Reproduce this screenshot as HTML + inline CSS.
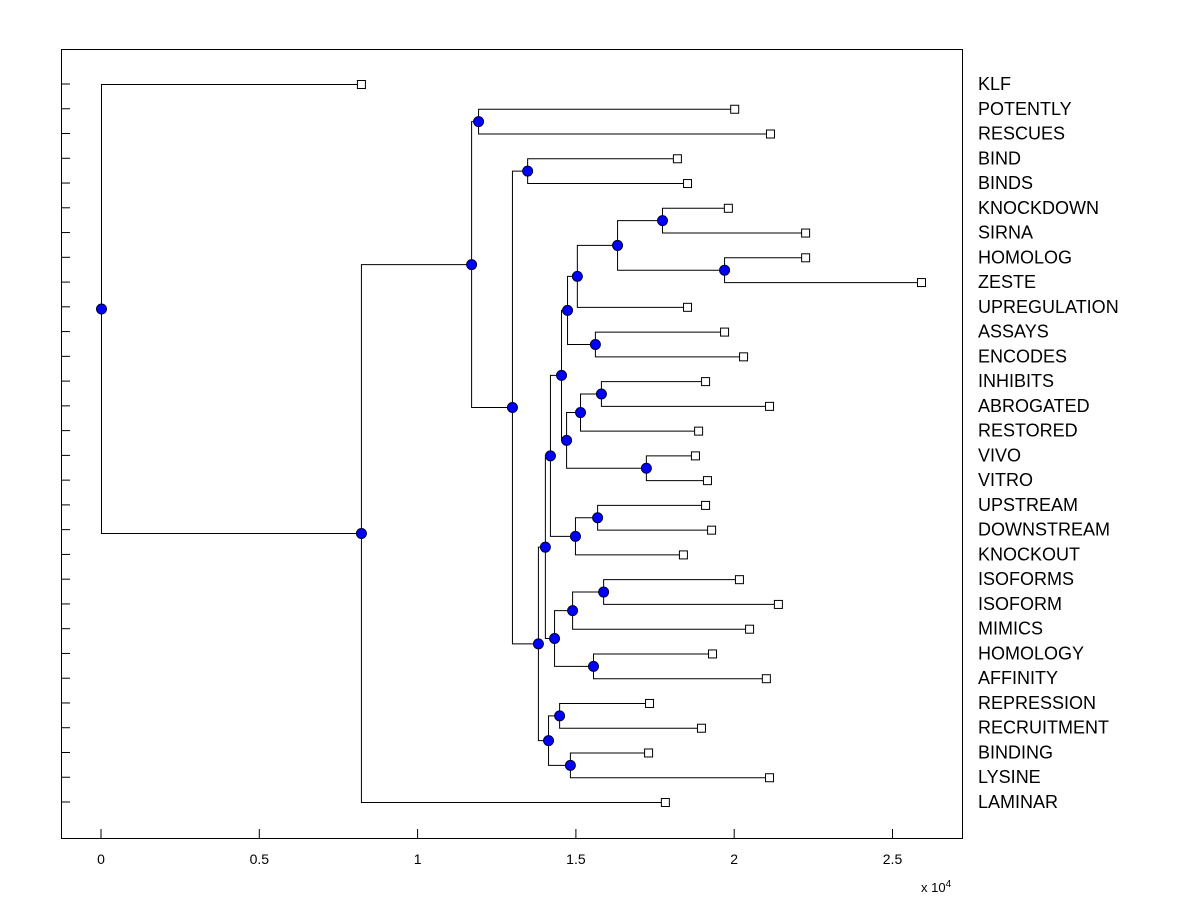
<!DOCTYPE html>
<html><head><meta charset="utf-8"><style>
body{margin:0;background:#fff;}
svg text{font-family:"Liberation Sans",Arial,sans-serif;}
</style></head><body>
<svg id="chart" width="1200" height="900" xmlns="http://www.w3.org/2000/svg">
<rect x="0" y="0" width="1200" height="900" fill="#fff"/>
<rect x="61.5" y="49.5" width="901" height="789" fill="#fff" stroke="#000" stroke-width="1"/>
<g id="g"></g>
</svg>
<script>
const leafNames=["KLF","POTENTLY","RESCUES","BIND","BINDS","KNOCKDOWN","SIRNA","HOMOLOG","ZESTE","UPREGULATION","ASSAYS","ENCODES","INHIBITS","ABROGATED","RESTORED","VIVO","VITRO","UPSTREAM","DOWNSTREAM","KNOCKOUT","ISOFORMS","ISOFORM","MIMICS","HOMOLOGY","AFFINITY","REPRESSION","RECRUITMENT","BINDING","LYSINE","LAMINAR"];
const leafHeights=[0.821,2.0,2.113,1.819,1.851,1.980,2.224,2.224,2.590,1.851,1.968,2.028,1.908,2.110,1.886,1.876,1.914,1.908,1.927,1.838,2.015,2.138,2.047,1.930,2.100,1.731,1.895,1.728,2.110,1.781];
const mergeLeft=[5,7,30,32,10,33,12,36,15,37,35,17,41,40,20,44,23,45,43,25,27,49,48,3,53,1,55,56,0];
const mergeRight=[6,8,31,9,11,34,13,14,16,38,39,18,19,42,21,22,24,46,47,26,28,50,51,4,52,2,54,29,57];
const mergeHeights=[1.772,1.968,1.630,1.503,1.560,1.472,1.579,1.513,1.721,1.469,1.453,1.567,1.497,1.418,1.586,1.488,1.554,1.431,1.402,1.447,1.481,1.412,1.380,1.346,1.298,1.191,1.169,0.821,0];
const xTicks=[0,0.5,1,1.5,2,2.5];
const xTickLabels=["0","0.5","1","1.5","2","2.5"];

const X=v=>101+v*316.6;
const Y=i=>84+i*(802-84)/29;
const NS="http://www.w3.org/2000/svg";
const g=document.getElementById('g');
function mk(t,a){const e=document.createElementNS(NS,t);for(const k in a)e.setAttribute(k,a[k]);g.appendChild(e);return e;}

xTicks.forEach((v,i)=>{
 const l=mk('line',{x1:X(v),x2:X(v),y1:838,y2:829,stroke:'#000'});
 
 
 const t=mk('text',{x:X(v),y:864,'font-size':14,'text-anchor':'middle'});
 t.textContent=xTickLabels[i];
 
 
});
const ex=mk('text',{x:921,y:892,'font-size':13});
ex.innerHTML='x 10<tspan dy="-5" font-size="10">4</tspan>';



leafNames.forEach((n,i)=>{
 const l=mk('line',{x1:61,x2:70,y1:Y(i),y2:Y(i),stroke:'#000'});
 
 
 const t=mk('text',{x:978,y:Y(i)+6,'font-size':18});
 t.textContent=n;
 
 
});

const nx=[],ny=[];
leafHeights.forEach((h,i)=>{nx.push(h);ny.push(Y(i));});
mergeHeights.forEach((h,k)=>{
 const a=mergeLeft[k],b=mergeRight[k];
 nx.push(h);ny.push((ny[a]+ny[b])/2);
 const p=mk('path',{d:`M${X(nx[a])+.5},${ny[a]+.5}H${X(h)+.5}V${ny[b]+.5}H${X(nx[b])+.5}`,fill:'none',stroke:'#000','stroke-width':1});
 
 
});
leafHeights.forEach((h,i)=>{
 const r=mk('rect',{x:X(h)-3.5,y:Y(i)-3.5,width:8,height:8,fill:'#fff',stroke:'#000'});
 
 
});
mergeHeights.forEach((h,k)=>{
 const c=mk('circle',{cx:X(h)+.5,cy:ny[30+k]+.5,r:5,fill:'#0000ff',stroke:'#000033','stroke-width':1});
 
 
});
</script>
</body></html>
